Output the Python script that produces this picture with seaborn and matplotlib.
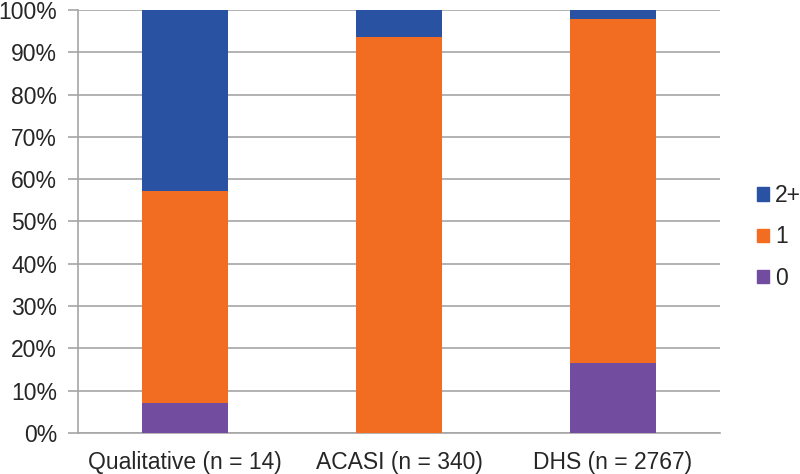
import matplotlib
matplotlib.use("Agg")
import matplotlib.pyplot as plt
import seaborn as sns
import pandas as pd
import numpy as np
from matplotlib.patches import Patch

categories = ["Qualitative (n = 14)", "ACASI (n = 340)", "DHS (n = 2767)"]
zero = [7.1, 0.0, 16.5]
one = [50.0, 93.7, 81.4]
two_plus = [42.9, 6.3, 2.1]

colors = {"2+": "#2A52A3", "1": "#F26D21", "0": "#724C9F"}

sns.set_theme(style="white")
plt.rcParams["font.family"] = ["Liberation Sans", "DejaVu Sans"]

df = pd.DataFrame({"cat": categories, "0": zero, "1": one, "2+": two_plus})
df["c0"] = df["0"]
df["c1"] = df["0"] + df["1"]
df["c2"] = df["c1"] + df["2+"]

FS = 16.5
fig = plt.figure(figsize=(8.0, 4.74), dpi=100)
ax = fig.add_axes([78/800, 1-433/474, (720-78)/800, (433-10)/474])

for col, key in [("c2", "2+"), ("c1", "1"), ("c0", "0")]:
    sns.barplot(data=df, x="cat", y=col, color=colors[key], width=0.4,
                saturation=1, ax=ax, zorder=3, linewidth=0)

ax.set_ylim(0, 100)
ax.set_xlim(-0.5, 2.5)
ax.set_yticks(np.arange(0, 101, 10))
ax.set_yticklabels([f"{v}%" for v in range(0, 101, 10)], fontsize=FS)
ax.tick_params(axis="x", labelsize=FS, length=0, pad=13)
ax.tick_params(axis="y", length=7, color="#A6A6A6", width=1.2, pad=8, left=True)
ax.set_xlabel("")
ax.set_ylabel("")
ax.yaxis.grid(True, color="#A6A6A6", linewidth=1.2, zorder=0)
ax.set_axisbelow(True)
for s in ["top", "right"]:
    ax.spines[s].set_visible(False)
for s in ["left", "bottom"]:
    ax.spines[s].set_color("#A6A6A6")
    ax.spines[s].set_linewidth(1.2)

handles = [Patch(color=colors[k], label=k) for k in ["2+", "1", "0"]]
leg = fig.legend(handles=handles, loc="center left", bbox_to_anchor=(757/800, 1-237/474),
                 frameon=False, fontsize=FS, handlelength=0.52, handleheight=0.52,
                 handletextpad=0.26, labelspacing=0.8, borderaxespad=0, borderpad=0)

fig.savefig("out.png", dpi=100)
